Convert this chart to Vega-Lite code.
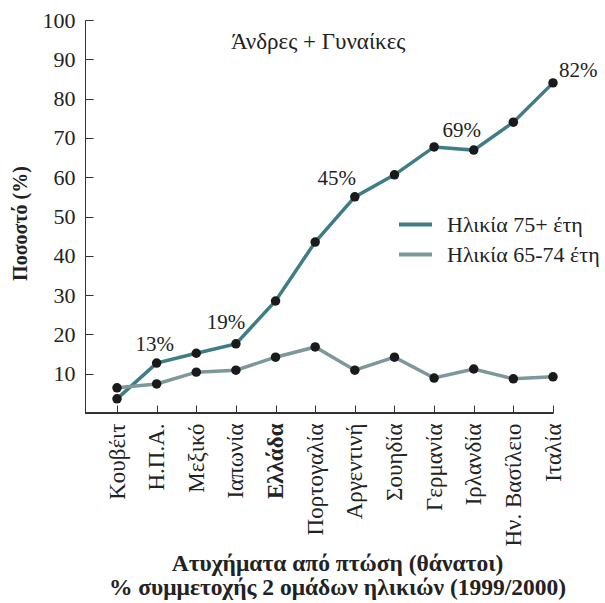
{
  "$schema": "https://vega.github.io/schema/vega-lite/v6.json",
  "width": 468,
  "height": 393,
  "autosize": {"type": "none"},
  "padding": {"left": 85, "top": 20, "right": 52, "bottom": 190},
  "background": "white",
  "config": {
    "view": {"stroke": null},
    "font": "Liberation Serif",
    "axis": {"labelFont": "Liberation Serif", "titleFont": "Liberation Serif", "domainColor": "#333", "tickColor": "#333", "labelColor": "#222", "titleColor": "#222", "grid": false},
    "legend": {"labelFont": "Liberation Serif"}
  },
  "datasets": {
    "main": [
      {"country": "Κουβέιτ", "series": "Ηλικία 75+ έτη", "value": 3.6, "label": ""},
      {"country": "Η.Π.Α.", "series": "Ηλικία 75+ έτη", "value": 12.7, "label": "13%"},
      {"country": "Μεξικό", "series": "Ηλικία 75+ έτη", "value": 15.2, "label": ""},
      {"country": "Ιαπωνία", "series": "Ηλικία 75+ έτη", "value": 17.6, "label": "19%"},
      {"country": "Ελλάδα", "series": "Ηλικία 75+ έτη", "value": 28.5, "label": ""},
      {"country": "Πορτογαλία", "series": "Ηλικία 75+ έτη", "value": 43.5, "label": ""},
      {"country": "Αργεντινή", "series": "Ηλικία 75+ έτη", "value": 55.0, "label": "45%"},
      {"country": "Σουηδία", "series": "Ηλικία 75+ έτη", "value": 60.6, "label": ""},
      {"country": "Γερμανία", "series": "Ηλικία 75+ έτη", "value": 67.7, "label": ""},
      {"country": "Ιρλανδία", "series": "Ηλικία 75+ έτη", "value": 66.9, "label": "69%"},
      {"country": "Ην. Βασίλειο", "series": "Ηλικία 75+ έτη", "value": 74.0, "label": ""},
      {"country": "Ιταλία", "series": "Ηλικία 75+ έτη", "value": 84.0, "label": "82%"},
      {"country": "Κουβέιτ", "series": "Ηλικία 65-74 έτη", "value": 6.4, "label": ""},
      {"country": "Η.Π.Α.", "series": "Ηλικία 65-74 έτη", "value": 7.4, "label": ""},
      {"country": "Μεξικό", "series": "Ηλικία 65-74 έτη", "value": 10.4, "label": ""},
      {"country": "Ιαπωνία", "series": "Ηλικία 65-74 έτη", "value": 10.9, "label": ""},
      {"country": "Ελλάδα", "series": "Ηλικία 65-74 έτη", "value": 14.2, "label": ""},
      {"country": "Πορτογαλία", "series": "Ηλικία 65-74 έτη", "value": 16.8, "label": ""},
      {"country": "Αργεντινή", "series": "Ηλικία 65-74 έτη", "value": 10.9, "label": ""},
      {"country": "Σουηδία", "series": "Ηλικία 65-74 έτη", "value": 14.2, "label": ""},
      {"country": "Γερμανία", "series": "Ηλικία 65-74 έτη", "value": 8.9, "label": ""},
      {"country": "Ιρλανδία", "series": "Ηλικία 65-74 έτη", "value": 11.2, "label": ""},
      {"country": "Ην. Βασίλειο", "series": "Ηλικία 65-74 έτη", "value": 8.7, "label": ""},
      {"country": "Ιταλία", "series": "Ηλικία 65-74 έτη", "value": 9.2, "label": ""}
    ],
    "note": [{"country": "Πορτογαλία", "value": 94.3, "text": "Άνδρες + Γυναίκες"}]
  },
  "data": {"name": "main"},
  "encoding": {
    "x": {
      "field": "country",
      "type": "ordinal",
      "sort": null,
      "scale": {"type": "point", "range": [32, 468], "padding": 0},
      "axis": {
        "title": ["Ατυχήματα από πτώση (θάνατοι)", "% συμμετοχής 2 ομάδων ηλικιών (1999/2000)"],
        "titleFontSize": 23.5,
        "titleFontWeight": "bold",
        "titleLineHeight": 24,
        "titleX": 252,
        "titleY": 157,
        "titleBaseline": "alphabetic",
        "titleAnchor": "middle",
        "labelAngle": -90,
        "labelAlign": "right",
        "labelBaseline": "middle",
        "labelFontSize": 23,
        "labelFontWeight": {"condition": {"test": "datum.value === 'Ελλάδα'", "value": "bold"}, "value": "normal"},
        "tickSize": -8,
        "labelPadding": 18,
        "domain": false
      }
    },
    "y": {
      "field": "value",
      "type": "quantitative",
      "scale": {"domain": [0, 100], "nice": false},
      "axis": {
        "title": "Ποσοστό (%)",
        "titleFontSize": 20,
        "titleFontWeight": "bold",
        "titleX": -65,
        "titleY": 203,
        "titleAngle": -90,
        "titleAlign": "center",
        "titleBaseline": "middle",
        "values": [10, 20, 30, 40, 50, 60, 70, 80, 90, 100],
        "labelFontSize": 22,
        "tickSize": -8,
        "labelPadding": 18,
        "domainColor": "#333"
      }
    }
  },
  "layer": [
    {
      "mark": {"type": "rule", "color": "#333", "strokeWidth": 1},
      "encoding": {"y": {"datum": 0}, "x": null}
    },
    {
      "mark": {"type": "line", "strokeWidth": 3.5},
      "encoding": {
        "color": {
          "field": "series",
          "type": "nominal",
          "scale": {"domain": ["Ηλικία 75+ έτη", "Ηλικία 65-74 έτη"], "range": ["#3f7d86", "#7d979b"]},
          "legend": {
            "title": null,
            "orient": "none",
            "legendX": 312,
            "legendY": 186,
            "symbolType": "stroke",
            "symbolSize": 1089,
            "symbolStrokeWidth": 4,
            "labelFontSize": 22,
            "labelColor": "#222",
            "labelOffset": 13,
            "rowPadding": -10
          }
        },
        "detail": {"field": "series"}
      }
    },
    {
      "mark": {"type": "point", "filled": true, "size": 90, "color": "#1a1a1a", "opacity": 1}
    },
    {
      "transform": [{"filter": "datum.label === '13%'"}],
      "mark": {"type": "text", "fontSize": 21, "dx": -2, "dy": -18, "align": "center", "baseline": "middle", "color": "#222"},
      "encoding": {"text": {"field": "label"}}
    },
    {
      "transform": [{"filter": "datum.label === '19%'"}],
      "mark": {"type": "text", "fontSize": 21, "dx": -10, "dy": -21, "align": "center", "baseline": "middle", "color": "#222"},
      "encoding": {"text": {"field": "label"}}
    },
    {
      "transform": [{"filter": "datum.label === '45%'"}],
      "mark": {"type": "text", "fontSize": 21, "dx": -18, "dy": -18, "align": "center", "baseline": "middle", "color": "#222"},
      "encoding": {"text": {"field": "label"}}
    },
    {
      "transform": [{"filter": "datum.label === '69%'"}],
      "mark": {"type": "text", "fontSize": 21, "dx": -12, "dy": -19, "align": "center", "baseline": "middle", "color": "#222"},
      "encoding": {"text": {"field": "label"}}
    },
    {
      "transform": [{"filter": "datum.label === '82%'"}],
      "mark": {"type": "text", "fontSize": 21, "dx": 6, "dy": -12, "align": "left", "baseline": "middle", "color": "#222"},
      "encoding": {"text": {"field": "label"}}
    },
    {
      "data": {"name": "note"},
      "mark": {"type": "text", "fontSize": 23, "dx": 3, "align": "center", "baseline": "middle", "color": "#222"},
      "encoding": {
        "x": {"field": "country", "type": "ordinal"},
        "y": {"field": "value", "type": "quantitative"},
        "text": {"field": "text"}
      }
    }
  ]
}
